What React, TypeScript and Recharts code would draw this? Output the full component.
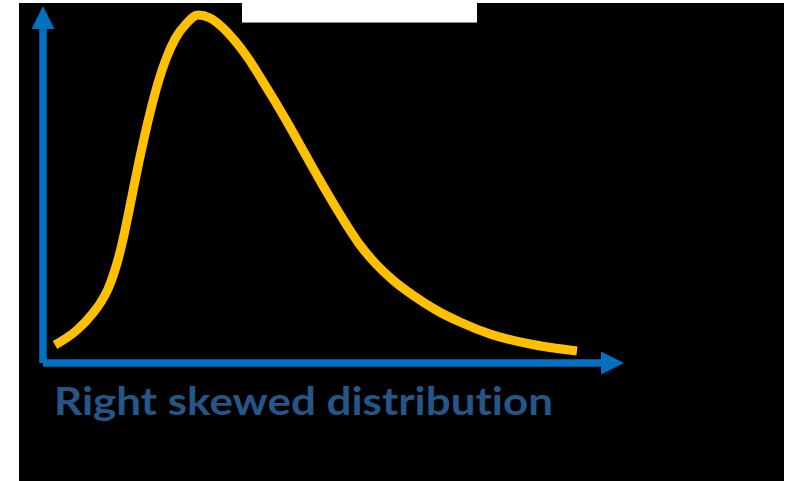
import React from 'react';
import { LineChart, Line, XAxis, YAxis } from 'recharts';

// Curve sample points (x position, density height)
const xValues = [2.07, 5.85, 8.61, 9.98, 11.19, 12.22, 13.08, 13.94, 14.8, 15.66, 16.52, 17.56, 18.59, 19.79, 21.17, 22.72, 24.61, 26.68, 28.74, 30.81, 33.05, 35.28, 37.69, 40.1, 42.51, 44.92, 47.33, 49.74, 52.15, 54.56, 57.31, 60.41, 63.86, 67.64, 71.77, 76.94, 83.82, 91.91];
const yValues = [5.04, 9.24, 14.01, 17.09, 20.73, 25.21, 29.97, 35.85, 42.58, 49.58, 56.44, 64.15, 71.15, 78.43, 85.15, 90.76, 94.96, 97.48, 96.64, 94.12, 90.2, 85.43, 79.27, 72.83, 66.11, 59.1, 52.1, 45.38, 38.94, 33.05, 27.73, 22.97, 18.77, 14.85, 11.48, 8.12, 5.32, 3.36];
const titleText = 'Right skewed distribution';

const data = xValues.map((x, i) => ({ x, y: yValues[i] }));

const AXIS_BLUE = '#0070C0';

export default function App() {
  return (
    <div style={{ position: 'absolute', left: 0, top: 0, width: 795, height: 481, background: '#ffffff', overflow: 'hidden' }}>
      <div style={{ position: 'absolute', left: 19, top: 3, width: 765, height: 478, background: '#000000' }} />
      <div style={{ position: 'absolute', left: 242, top: 0, width: 235, height: 22, background: '#ffffff', borderBottom: '1px solid #8a8a8a' }} />
      <div style={{ position: 'absolute', left: 0, top: 0 }}>
        <LineChart width={795} height={481} data={data} margin={{ top: 6, right: 171, bottom: 117, left: 42 }}>
          <defs>
            <marker id="arrowHead" markerUnits="userSpaceOnUse" markerWidth={23} markerHeight={23} refX={23} refY={11.5} orient="auto-start-reverse" viewBox="0 0 23 23">
              <path d="M0,0 L23,11.5 L0,23 Z" fill={AXIS_BLUE} />
            </marker>
          </defs>
          <XAxis
            type="number"
            dataKey="x"
            domain={[0, 100]}
            height={1}
            tick={false}
            tickLine={false}
            axisLine={{ stroke: AXIS_BLUE, strokeWidth: 7.5, strokeDasharray: '559 200', markerEnd: 'url(#arrowHead)' }}
          />
          <YAxis
            type="number"
            domain={[0, 100]}
            width={1}
            tick={false}
            tickLine={false}
            axisLine={{ stroke: AXIS_BLUE, strokeWidth: 7.5, strokeDasharray: '0 23 1000', markerStart: 'url(#arrowHead)' }}
          />
          <Line
            type="monotone"
            dataKey="y"
            stroke="#FFC000"
            strokeWidth={9}
            dot={false}
            activeDot={false}
            isAnimationActive={false}
          />
        </LineChart>
      </div>
      <svg width={795} height={481} style={{ position: 'absolute', left: 0, top: 0 }}>
        <text
          x={54}
          y={415}
          fill="#265687"
          fontFamily="Lato, 'Open Sans', sans-serif"
          fontWeight={700}
          fontSize={39}
          textLength={499}
          lengthAdjust="spacingAndGlyphs"
          style={{ fontVariantLigatures: 'none' }}
        >
          {titleText}
        </text>
      </svg>
    </div>
  );
}
